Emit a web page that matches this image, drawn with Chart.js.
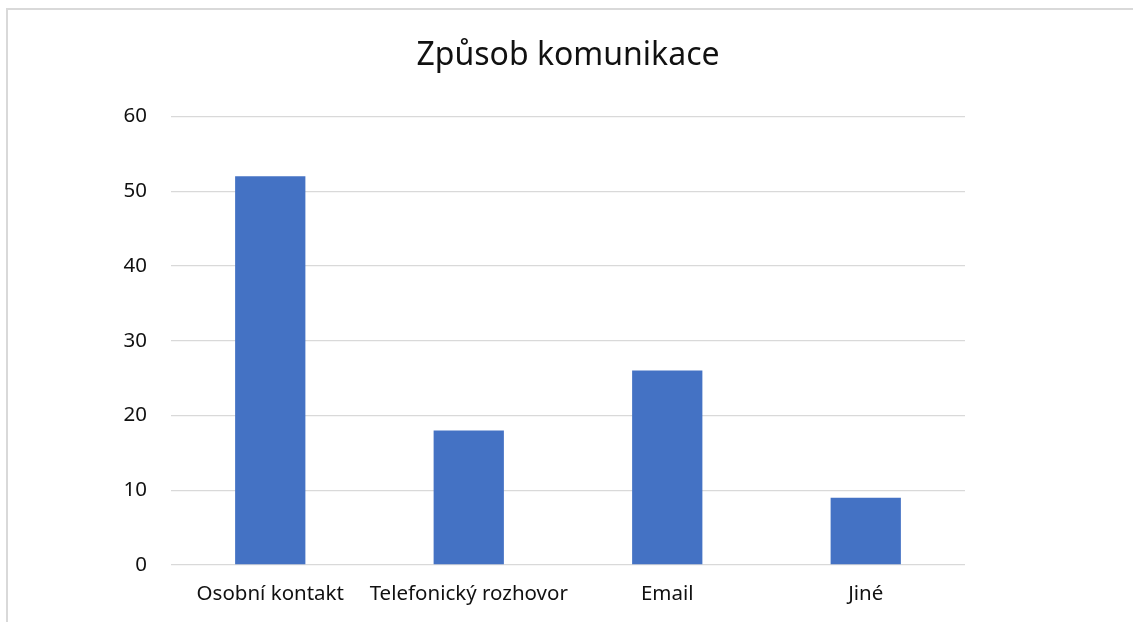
<!DOCTYPE html>
<html>
<head>
<meta charset="utf-8">
<script src="https://cdn.jsdelivr.net/npm/chart.js@4.4.0/dist/chart.umd.min.js"></script>
<style>
    html, body { margin: 0; padding: 0; background: #fff; }
    #wrap { position: relative; width: 1133px; height: 622px; overflow: hidden; }
    #frame {
        position: absolute; left: 6px; top: 8px; width: 1200px; height: 700px;
        border: 2px solid #d9d9d9; box-sizing: border-box;
    }
    #chart { position: absolute; left: 0; top: 0; }
</style>
</head>
<body>
<div id="wrap">
    <div id="frame"></div>
    <canvas id="chart" width="1133" height="622"></canvas>
</div>
<script>
const categories = ['Osobní kontakt', 'Telefonický rozhovor', 'Email', 'Jiné'];
const counts = [52, 18, 26, 9];
const yTicks = [0, 10, 20, 30, 40, 50, 60];

const fontFamily = '"Noto Sans", "Open Sans", sans-serif';

const ctx = document.getElementById('chart').getContext('2d');
new Chart(ctx, {
    type: 'bar',
    data: {
        labels: categories,
        datasets: [{
            data: counts,
            backgroundColor: '#4472C4',
            barPercentage: 0.354,
            categoryPercentage: 1
        }]
    },
    options: {
        responsive: false,
        animation: false,
        layout: { padding: { left: 0, right: 168, top: 0, bottom: 0 } },
        plugins: {
            legend: { display: false },
            tooltip: { enabled: false },
            title: {
                display: true,
                text: 'Způsob komunikace',
                fullSize: false,
                color: '#111',
                font: { family: fontFamily, size: 32, weight: 'normal', lineHeight: 1.2 },
                padding: { top: 37, bottom: 41 }
            }
        },
        scales: {
            x: {
                grid: { display: false, drawTicks: false },
                border: { display: false },
                ticks: {
                    color: '#111',
                    font: { family: fontFamily, size: 20.5 },
                    padding: 17,
                    maxRotation: 0,
                    autoSkip: false
                },
                afterFit: (scale) => { scale.height = 57; }
            },
            y: {
                min: yTicks[0],
                max: yTicks[yTicks.length - 1],
                afterBuildTicks: (scale) => {
                    scale.ticks = yTicks.map(v => ({ value: v }));
                },
                grid: { color: '#d9d9d9', lineWidth: 1.3, drawTicks: false },
                border: { display: false },
                ticks: {
                    color: '#111',
                    font: { family: fontFamily, size: 20.5 },
                    padding: 24
                },
                afterFit: (scale) => { scale.width = 171; }
            }
        }
    }
});
</script>
</body>
</html>
